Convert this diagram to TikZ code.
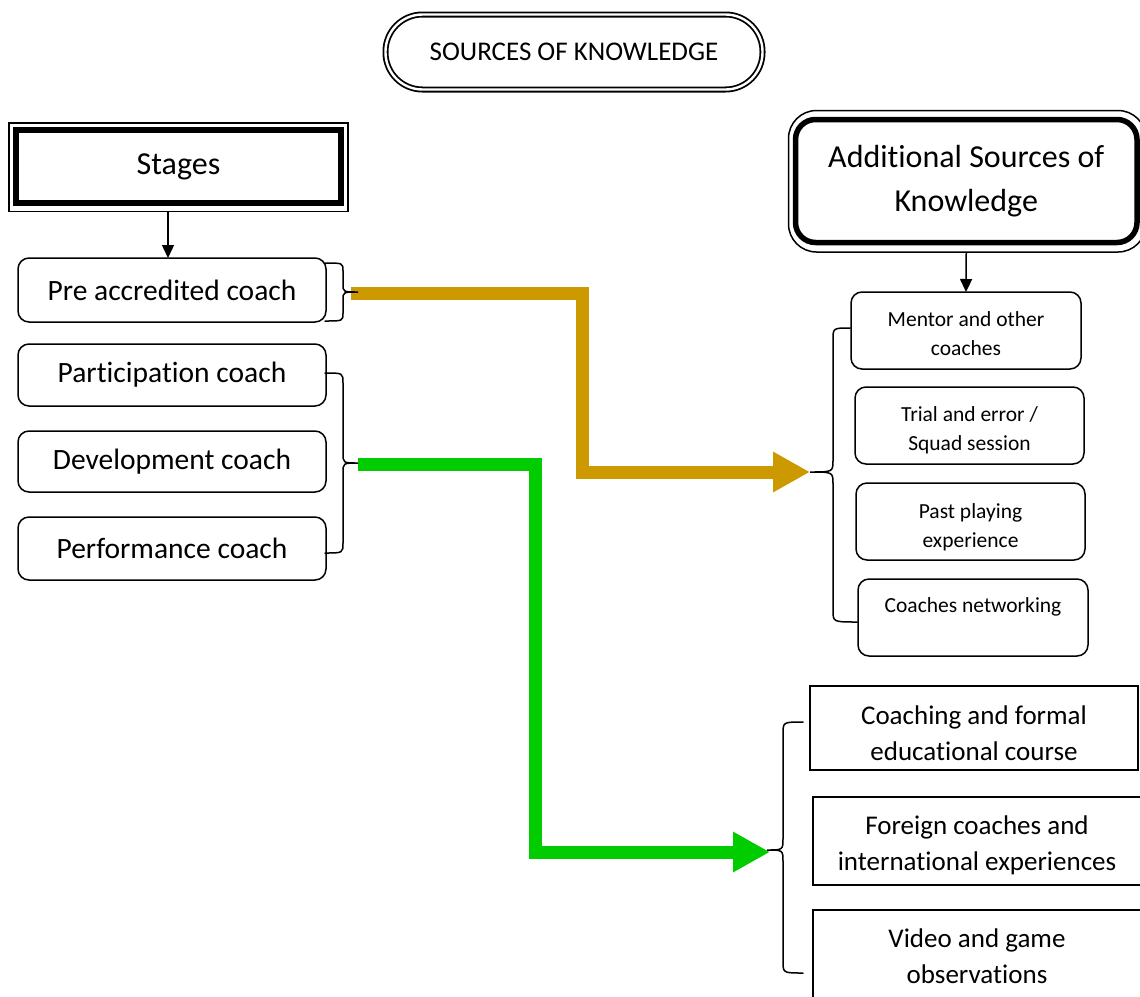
\documentclass[tikz,border=0pt]{standalone}
\usepackage{fontspec}
\setmainfont[Ligatures=CommonOff]{Carlito}
\usetikzlibrary{arrows.meta}
\definecolor{goldc}{RGB}{204,153,0}
\definecolor{greenc}{RGB}{0,204,0}
\newcommand\tallr[1]{\rule{0pt}{#1pt}}
\newcommand\mybrace[8]{%
 \draw[bracel] (#1,#2) .. controls (#5,#2) .. (#5,{#2+#8}) -- (#5,{#7-#8}) .. controls (#5,#7) .. (#6,#7) .. controls (#5,#7) .. (#5,{#7+#8}) -- (#5,{#4-#8}) .. controls (#5,#4) .. (#3,#4);}
\begin{document}
\begin{tikzpicture}[x=1pt,y=-1pt,
 box/.style={draw, line width=1.5pt, rounded corners=11pt, align=center, inner sep=0pt, outer sep=0pt},
 sq/.style={draw, line width=1.5pt, align=center, inner sep=0pt, outer sep=0pt},
 bigf/.style={font=\fontsize{29.5}{36}\selectfont},
 lowf/.style={font=\fontsize{27}{36}\selectfont},
 smf/.style={font=\fontsize{21.5}{29}\selectfont},
 bracel/.style={line width=1.5pt, line cap=round},
 blk/.style={line width=1.5pt, -{Triangle[length=13pt,width=12pt]}},
 fat/.style={line width=13pt, line join=miter, -{Triangle[length=37pt,width=38pt]}}]
\useasboundingbox (0,0) rectangle (1140,996);
% title
\node[draw, double, double distance=2.4pt, line width=1.8pt, rounded corners=37pt, minimum width=377pt, minimum height=75pt, font=\fontsize{27}{30}\selectfont] (title) at (574,52) {SOURCES OF KNOWLEDGE};
% stages
\node[draw, line width=6pt, minimum width=325pt, minimum height=73pt, outer sep=0pt, font=\fontsize{32}{36}\selectfont] (stages) at (178.5,166.5) {Stages};
\draw[line width=1.5pt] ([shift={(-7,-7)}]stages.north west) rectangle ([shift={(7,8.5)}]stages.south east);
\node[box, bigf, minimum width=308pt, minimum height=64pt] (pre) at (172,290) {Pre accredited coach};
\node[box, bigf, minimum width=308pt, minimum height=62pt] (part) at (172,375) {Participation coach};
\node[box, bigf, minimum width=308pt, minimum height=61pt] (dev) at (172,461.5) {Development coach};
\node[box, bigf, minimum width=308pt, minimum height=63pt] (perf) at (172,548.5) {Performance coach};
\draw[blk] ([xshift=-10.5pt,yshift=-9pt]stages.south) -- ([xshift=-4pt]pre.north);
% additional
\node[draw, line width=5.5pt, rounded corners=20pt, minimum width=341.5pt, minimum height=123pt, outer sep=0pt, align=center, font=\fontsize{32}{44}\selectfont] (add) at (966.25,181) {Additional Sources of\\Knowledge};
\draw[line width=1.5pt, rounded corners=28pt] ([shift={(-7,-9)}]add.north west) rectangle ([shift={(9,9.5)}]add.south east);
\node[box, smf, minimum width=230pt, minimum height=77pt] (mentor) at (966,330.5) {\tallr{21}Mentor and other\\coaches};
\node[box, smf, minimum width=229pt, minimum height=77pt] (trial) at (969.5,425.5) {\tallr{25}Trial and error /\\Squad session};
\node[box, smf, minimum width=229pt, minimum height=77pt] (past) at (970.5,521.5) {\tallr{27}Past playing\\experience};
\node[box, smf, minimum width=230pt, minimum height=77pt] (net) at (973,617.5) {\tallr{19}Coaches networking\\\mbox{}};
\draw[blk] ([yshift=-9.5pt]add.south) -- (mentor.north);
\node[sq, lowf, minimum width=328pt, minimum height=84pt] (coach) at (974,728) {\tallr{29}Coaching and formal\\educational course};
\node[sq, lowf, minimum width=328pt, minimum height=88pt] (foreign) at (977,841) {\tallr{27}Foreign coaches and\\international experiences};
\node[sq, lowf, minimum width=328pt, minimum height=92pt] (video) at (977,956) {Video and game\\observations};
% fat arrows
\coordinate (gs) at (351,293);
\coordinate (gx) at (582,472);
\coordinate (ge) at (810,472);
\draw[fat, goldc] (gs) -| (gx) -- (ge);
\coordinate (hs) at (358,464);
\coordinate (hx) at (535,852);
\coordinate (he) at (770,852);
\draw[fat, greenc] (hs) -| (hx) -- (he);
% braces
\mybrace{325}{263}{325}{321}{343}{358}{292}{8}
\mybrace{325}{373}{325}{553}{343}{358}{463}{10}
\mybrace{850}{328}{857}{622}{833}{810}{472}{12}
\mybrace{803}{722}{803}{973}{783}{767}{850}{12}
\end{tikzpicture}
\end{document}
